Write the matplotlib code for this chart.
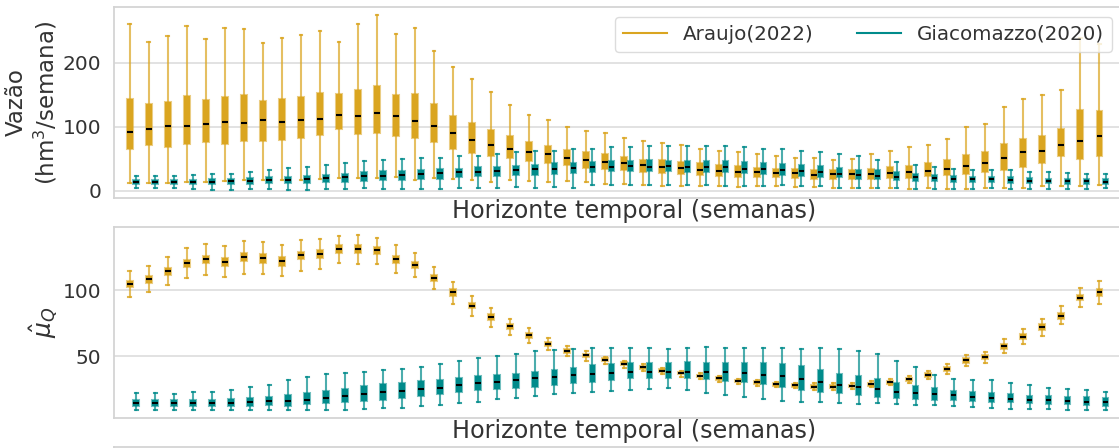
import matplotlib
matplotlib.use("Agg")
import matplotlib.pyplot as plt
import numpy as np

weeks = list(range(1, 53))

# ---------- Top panel: Vazão (hm3/semana) ----------
# Araujo(2022): whislo, q1, med, q3, whishi
ara_top_lo = [13, 13, 13, 14, 14, 15, 17, 17, 17, 17, 18, 20, 20, 20, 22, 17, 20, 19, 17, 14,
              17, 16, 14, 15, 14, 11, 11, 10, 8, 8, 8, 8, 6, 7, 7, 6, 6, 4, 4, 4,
              4, 3, 4, 3, 3, 4, 5, 5, 7, 7, 7, 10]
ara_top_q1 = [65, 71, 69, 74, 77, 74, 78, 78, 80, 83, 88, 96, 89, 90, 85, 82, 76, 65, 59, 54,
              51, 47, 43, 40, 36, 34, 32, 29, 28, 27, 25, 23, 22, 22, 21, 20, 18, 19, 19, 19,
              20, 20, 23, 25, 26, 29, 33, 38, 43, 54, 50, 55]
ara_top_med = [92, 96, 101, 102, 105, 107, 106, 110, 108, 110, 112, 118, 117, 121, 117, 109, 101, 90, 79, 72,
               66, 61, 57, 52, 48, 45, 43, 40, 38, 36, 33, 31, 30, 30, 28, 28, 25, 26, 26, 26,
               28, 29, 31, 35, 39, 43, 51, 60, 63, 71, 78, 85]
ara_top_q3 = [144, 136, 139, 148, 142, 146, 149, 140, 144, 147, 153, 151, 157, 164, 150, 151, 135, 117, 106, 95,
              85, 76, 70, 64, 60, 57, 53, 49, 48, 45, 43, 41, 39, 36, 35, 34, 33, 33, 32, 35,
              37, 39, 43, 48, 56, 60, 73, 81, 86, 96, 126, 125]
ara_top_hi = [261, 232, 242, 258, 237, 255, 253, 231, 239, 243, 249, 232, 260, 274, 245, 255, 219, 193, 175, 154,
              134, 118, 110, 100, 94, 90, 83, 78, 75, 71, 66, 63, 61, 57, 54, 52, 51, 49, 50, 57,
              62, 69, 72, 81, 99, 105, 131, 143, 150, 158, 238, 230]

# Giacomazzo(2020)
gia_top_lo = [4, 4, 4, 3, 2, 2, 3, 3, 2, 2, 3, 3, 4, 3, 3, 3, 3, 4, 4, 4,
              6, 4, 6, 5, 9, 10, 10, 9, 9, 9, 9, 8, 8, 8, 9, 7, 7, 5, 5, 5,
              4, 3, 3, 3, 3, 4, 3, 3, 3, 3, 3, 4]
gia_top_q1 = [11, 11, 11, 11, 11, 11, 11, 12, 12, 13, 14, 14, 15, 17, 17, 18, 19, 21, 23, 24,
              25, 25, 27, 28, 30, 31, 31, 31, 31, 30, 30, 30, 28, 27, 25, 24, 22, 21, 19, 18,
              17, 16, 15, 14, 14, 14, 13, 12, 12, 11, 11, 11]
gia_top_med = [14, 14, 14, 14, 14, 15, 16, 17, 17, 19, 20, 21, 23, 24, 25, 26, 28, 29, 30, 31,
               32, 34, 35, 36, 37, 38, 39, 38, 39, 38, 37, 37, 35, 34, 32, 31, 29, 26, 25, 24,
               22, 21, 20, 19, 18, 18, 17, 16, 16, 15, 15, 14]
gia_top_q3 = [17, 17, 17, 17, 18, 19, 20, 21, 22, 24, 25, 27, 29, 31, 31, 33, 34, 35, 37, 38,
              39, 41, 43, 44, 45, 46, 47, 48, 47, 47, 46, 46, 45, 43, 42, 41, 39, 36, 33, 32,
              29, 26, 25, 23, 22, 21, 21, 20, 19, 18, 18, 18]
gia_top_hi = [24, 24, 24, 25, 26, 27, 30, 33, 36, 38, 40, 44, 46, 49, 50, 51, 52, 54, 55, 57,
              60, 62, 63, 66, 66, 69, 69, 70, 70, 70, 70, 70, 69, 66, 66, 63, 61, 58, 54, 48,
              45, 40, 38, 35, 33, 32, 32, 30, 29, 28, 27, 26]

# ---------- Bottom panel: mu_Q ----------
ara_bot_lo = [95, 98.5, 103.8, 108.8, 111.6, 109.8, 112.3, 111.8, 110.6, 114.6, 115.6, 120, 119.8, 119.8, 113, 109.5, 100.5, 89.2, 80.2, 72.4,
              66, 60.3, 54.5, 50.3, 46.7, 44.2, 41.2, 39, 36.7, 34.7, 32.7, 30.9, 28.9, 27.9, 26.6, 25.8, 24.8, 24.8, 25.3, 26.6,
              28.1, 29.6, 32.7, 36.7, 42.7, 44.7, 52.3, 59.5, 65.6, 74.1, 87.2, 89.4]
ara_bot_q1 = [102, 105.3, 111.3, 117, 120, 118, 121.6, 120.6, 118.3, 123.4, 124, 127.6, 127.6, 126.9, 120.6, 116.3, 106.8, 95.5, 86.2, 77.4,
              70.4, 64, 57.8, 52.8, 49.2, 46.2, 43.2, 40.7, 38.2, 36.4, 34.4, 32.4, 30.4, 29.4, 27.9, 27.1, 26.1, 26.1, 26.6, 27.9,
              29.4, 31.4, 34.7, 38.9, 45.2, 47.7, 55.5, 62.8, 69.6, 78.4, 92.5, 95.5]
ara_bot_med = [104.8, 108.3, 114, 120, 123.1, 121, 125, 124, 121.9, 126.6, 127.4, 130.6, 130.6, 129.9, 123.4, 119, 109, 98.2, 88.2, 79.6,
               72.6, 65.8, 59.3, 54.3, 50.8, 47.2, 44.5, 42, 39.2, 37.4, 35.4, 33.4, 31.4, 30.5, 28.9, 28.1, 27.1, 27.1, 27.6, 28.9,
               30.4, 32.7, 36.2, 40.5, 47, 49.5, 57.5, 64.8, 71.9, 80.7, 94.2, 98.2]
ara_bot_q3 = [106.8, 110.5, 116.6, 122.6, 125.9, 124, 128, 127, 124.6, 128.9, 130, 133.7, 133.9, 132.4, 126, 120.9, 111, 100.5, 90.5, 81.7,
              74.4, 67.3, 60.8, 55.8, 52, 48.5, 45.5, 43, 40.2, 38.2, 36.2, 34.2, 32.2, 31.4, 29.9, 29.1, 28.1, 28.1, 28.6, 29.9,
              31.4, 33.9, 37.7, 42.2, 48.7, 51.3, 59.5, 67.1, 74.4, 82.9, 96, 100.5]
ara_bot_hi = [114, 118, 125, 131.4, 134.4, 133, 137, 136, 134, 137.7, 138.4, 141, 141.5, 139.4, 134, 128, 117, 106.3, 95.7, 86.2,
              78.4, 71.1, 64, 58, 54.3, 49.7, 46.7, 44, 41.2, 39.2, 37.2, 35.2, 33.2, 32.4, 30.9, 30.1, 29.6, 29.6, 30.1, 31.2,
              32.7, 35.4, 38.9, 44.2, 51, 53.5, 62.8, 70.4, 77.9, 87.7, 101.3, 106.5]

gia_bot_lo = [9.8, 9.8, 9.8, 9.8, 9.8, 9.8, 9.8, 9.8, 9.8, 9.8, 9.8, 9.8, 10.3, 10.8, 11.3, 12.3, 13.6, 14.8, 15.8, 17.6,
              18.8, 20.4, 21.6, 22.6, 22.9, 24.1, 24.6, 25.1, 26.4, 24.4, 22.4, 20.9, 19.1, 17.6, 16.3, 15.8, 15.3, 14.8, 14.3, 14.6,
              13.8, 13.3, 13.1, 12.8, 11.8, 11.1, 10.3, 10.3, 10.3, 9.8, 9.8, 9.8]
gia_bot_q1 = [12.6, 12.6, 12.6, 12.6, 12.6, 12.6, 12.8, 13.1, 12.8, 13.8, 14.8, 15.3, 16.3, 17.1, 18.3, 20.1, 21.4, 22.9, 24.4, 25.1,
              25.9, 27.1, 28.6, 29.6, 30.7, 31.9, 33.7, 33.7, 33.7, 33.4, 32.7, 31.7, 30.9, 29.5, 27.1, 24.6, 23.4, 22.4, 21.1, 19.6,
              18.6, 17.6, 17.1, 16.8, 16.3, 15.6, 15.3, 14.6, 14.3, 13.8, 13.3, 12.8]
gia_bot_med = [14.8, 14.8, 14.8, 14.8, 14.8, 15.1, 15.8, 16.3, 16.3, 17.1, 18.3, 19.8, 21.6, 22.9, 24.1, 25.1, 26.4, 28.1, 29.9, 30.7,
               32.2, 33.4, 34.7, 35.9, 36.4, 37.2, 37.9, 37.9, 38.4, 38.4, 38.4, 38.4, 37.2, 35.8, 35.4, 33.2, 30.7, 28.1, 26.6, 25.1,
               23.1, 22.4, 21.6, 20.9, 19.6, 18.8, 18.1, 17.3, 16.8, 16.3, 15.8, 15.3]
gia_bot_q3 = [17.1, 17.1, 17.1, 17.1, 17.1, 17.6, 18.3, 19.6, 21.1, 22.6, 23.9, 25.1, 27.6, 29.1, 29.9, 31.4, 32.4, 33.9, 34.9, 35.9,
              36.9, 38.4, 40, 41.5, 43.2, 44, 44.7, 45.2, 45.2, 46, 45.2, 45.2, 45.2, 45.2, 44.2, 42.7, 39.7, 36.9, 35.4, 32.7,
              29.9, 27.9, 25.9, 24.1, 22.9, 22.1, 21.6, 20.4, 20.1, 19.6, 19.1, 18.3]
gia_bot_hi = [22.6, 22.6, 21.4, 22.9, 22.9, 24.6, 26.6, 28.4, 32.2, 34.7, 36.9, 37.4, 38.4, 39.4, 40.7, 41.7, 44.5, 46.5, 48.5, 50.3,
              51.5, 53.8, 54.8, 55.8, 56, 56.5, 56, 56.5, 55.8, 56.3, 56.8, 56.5, 56.5, 56.4, 56.5, 55.8, 56.5, 55.5, 54, 52,
              46.2, 41.7, 36.2, 33.2, 32.4, 31.9, 29.9, 28.1, 26.4, 25.4, 24.6, 23.4]

labels = ["Araujo(2022)", "Giacomazzo(2020)"]
GOLD = "#DAA520"
TEAL = "#008B8B"
TXT = "#333333"

plt.rcParams["font.family"] = ["DejaVu Sans"]
plt.rcParams["text.color"] = TXT
plt.rcParams["axes.labelcolor"] = TXT
plt.rcParams["xtick.color"] = TXT
plt.rcParams["ytick.color"] = TXT

W, H = 1119, 448
fig = plt.figure(figsize=(W / 100, H / 100), dpi=100)

left = 114 / W
width = (1121.5 - 114) / W
ax1 = fig.add_axes([left, (H - 198) / H, width, 191 / H])
ax2 = fig.add_axes([left, (H - 418) / H, width, 191 / H])
ax3 = fig.add_axes([left, (H - 446.7) / H - 0.5, width, 0.5])


def stats(lo, q1, med, q3, hi):
    return [dict(whislo=a, q1=b, med=c, q3=d, whishi=e) for a, b, c, d, e in zip(lo, q1, med, q3, hi)]


def draw(ax, st, pos, color):
    ax.bxp(st, positions=pos, widths=0.3, showfliers=False, patch_artist=True,
           boxprops=dict(facecolor=color, edgecolor=(*matplotlib.colors.to_rgb(color), 0.55), linewidth=1.5),
           whiskerprops=dict(color=color, alpha=0.7, linewidth=1.5),
           capprops=dict(color=color, alpha=0.8, linewidth=1.5),
           medianprops=dict(color="black", linewidth=1.5),
           manage_ticks=False)


pos = np.array(weeks, dtype=float)
off = 0.165

draw(ax1, stats(ara_top_lo, ara_top_q1, ara_top_med, ara_top_q3, ara_top_hi), pos - off, GOLD)
draw(ax1, stats(gia_top_lo, gia_top_q1, gia_top_med, gia_top_q3, gia_top_hi), pos + off, TEAL)
draw(ax2, stats(ara_bot_lo, ara_bot_q1, ara_bot_med, ara_bot_q3, ara_bot_hi), pos - off, GOLD)
draw(ax2, stats(gia_bot_lo, gia_bot_q1, gia_bot_med, gia_bot_q3, gia_bot_hi), pos + off, TEAL)

for ax in (ax1, ax2, ax3):
    ax.set_xlim(0, 53)
    ax.set_xticks([])
    ax.grid(axis="y", color="#dddddd", linewidth=1.2)
    ax.set_axisbelow(True)
    for s in ax.spines.values():
        s.set_color("#d4d4d4")
        s.set_linewidth(1.3)
    ax.tick_params(axis="y", length=0, pad=9, labelsize=14.5)

ax3.set_yticks([])

ax1.set_ylim(-11, 287)
ax1.set_yticks([0, 100, 200])
ax2.set_ylim(3.5, 147.5)
ax2.set_yticks([50, 100])

ax1.set_ylabel("Vazão\n(hm$^3$/semana)", fontsize=16.5)
ax2.set_ylabel(r"$\hat{\mu}_Q$", fontsize=18)
for ax in (ax1, ax2):
    ax.yaxis.set_label_coords(-0.054, 0.5, transform=ax.transAxes)
    ax.set_xlabel("Horizonte temporal (semanas)", fontsize=17.2)
    ax.xaxis.set_label_coords(0.516, -0.005, transform=ax.transAxes)
    ax.xaxis.label.set_verticalalignment("top")

handles = [plt.Line2D([], [], color=GOLD, lw=1.5), plt.Line2D([], [], color=TEAL, lw=1.5)]
ax1.legend(handles, labels, loc="upper right", ncol=2, fontsize=14.3, frameon=True,
           edgecolor="#d4d4d4", handlelength=2.2, columnspacing=2.2)

fig.savefig("out.png", dpi=100)
